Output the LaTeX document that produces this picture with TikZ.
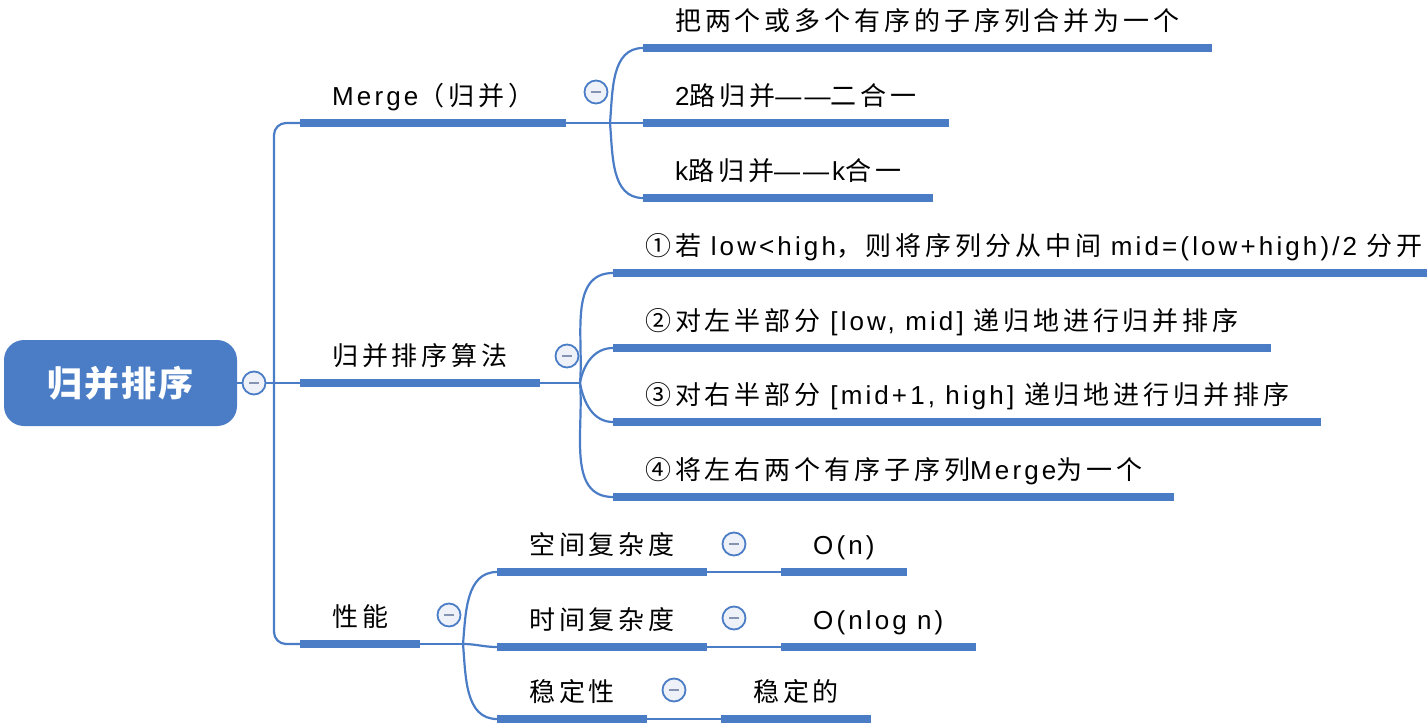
\documentclass[tikz,border=0pt]{standalone}
\usepackage{fontspec}
\setmainfont[LetterSpace=15]{Noto Sans CJK SC}
\newfontfamily\lat[LetterSpace=12]{Liberation Sans}
\definecolor{mapblue}{HTML}{4A7DC6}
\definecolor{foldfill}{HTML}{EEF1F8}
\definecolor{foldbar}{HTML}{8593B3}
\tikzset{
  link/.style={draw=mapblue, line width=2.2pt},
  bar/.style={draw=mapblue, line width=8pt},
  topic/.style={anchor=south west, inner xsep=32pt, inner ysep=0pt,
    text height=24pt, text depth=17pt, font=\fontsize{26pt}{30pt}\selectfont},
  rootbox/.style={rounded corners=20pt, fill=mapblue, text=white,
    minimum width=233pt, minimum height=86pt,
    font=\bfseries\fontsize{35pt}{40pt}\selectfont\addfontfeature{LetterSpace=6}},
  fold/.style={circle, draw=mapblue, line width=1.8pt, fill=foldfill,
    minimum size=23pt, inner sep=0pt,
    path picture={\draw[foldbar, line width=2pt]
      ([xshift=-5pt]path picture bounding box.center) -- ([xshift=5pt]path picture bounding box.center);}},
}
\begin{document}
\begin{tikzpicture}[x=1pt, y=1pt]
      \useasboundingbox (0,0) rectangle (1427,-725);
      \node[rootbox] (root) at (120.5,-383) {归并排序};
      \node[topic] (merge) at (300,-123) {{\lat Merge}（归并）};
      \node[topic] (algo) at (300,-383) {归并排序算法};
      \node[topic] (perf) at (300,-644) {性能};
      \node[topic] (m1) at (643,-48) {把两个或多个有序的子序列合并为一个};
      \node[topic] (m2) at (643,-123) {{\lat 2}路归并{\lat ——}二合一};
      \node[topic] (m3) at (643,-198) {{\lat k}路归并{\lat ——k}合一};
      \node[topic] (a1) at (613,-273) {①若 {\lat low<high}，则将序列分从中间 {\lat mid=(low+high)/2} 分开};
      \node[topic] (a2) at (613,-348) {②对左半部分 {\lat [low, mid]} 递归地进行归并排序};
      \node[topic] (a3) at (613,-422) {③对右半部分 {\lat [mid+1, high]} 递归地进行归并排序};
      \node[topic] (a4) at (613,-497) {④将左右两个有序子序列{\lat Merge}为一个};
      \node[topic] (p1) at (497,-572) {空间复杂度};
      \node[topic] (p2) at (497,-647) {时间复杂度};
      \node[topic] (p3) at (497,-719) {稳定性};
      \node[topic] (v1) at (781,-572) {\lat O(n)};
      \node[topic] (v2) at (781,-647) {\lat O(nlog n)};
      \node[topic] (v3) at (721,-719) {稳定的};
      \coordinate (rootfork) at (274,-383);
      \coordinate (mergefork) at (610,-123);
      \coordinate (algofork) at (580,-383);
      \coordinate (perffork) at (463,-644);
      \begin{scope}[link]
        \draw (root.east) -- (rootfork);
        \draw[rounded corners=12pt] (rootfork) |- (merge.south west);
        \draw (rootfork) -- (algo.south west);
        \draw[rounded corners=12pt] (rootfork) |- (perf.south west);
        \draw (merge.south east) -- (mergefork);
        \draw (mergefork) to[out=85, in=180] (m1.south west);
        \draw (mergefork) -- (m2.south west);
        \draw (mergefork) to[out=-85, in=180] (m3.south west);
        \draw (algo.south east) -- (algofork);
        \draw (algofork) to[out=85, in=180] (a1.south west);
        \draw (algofork) to[out=80, in=180] (a2.south west);
        \draw (algofork) to[out=-80, in=180] (a3.south west);
        \draw (algofork) to[out=-85, in=180] (a4.south west);
        \draw (perf.south east) -- (perffork);
        \draw (perffork) to[out=85, in=180] (p1.south west);
        \draw (perffork) to[out=0, in=180] (p2.south west);
        \draw (perffork) to[out=-85, in=180] (p3.south west);
        \draw (p1.south east) -- (v1.south west);
        \draw (p2.south east) -- (v2.south west);
        \draw (p3.south east) -- (v3.south west);
      \end{scope}
      \begin{scope}[bar]
        \draw (merge.south west) -- (merge.south east);
        \draw (algo.south west) -- (algo.south east);
        \draw (perf.south west) -- (perf.south east);
        \draw (m1.south west) -- (m1.south east);
        \draw (m2.south west) -- (m2.south east);
        \draw (m3.south west) -- (m3.south east);
        \draw (a1.south west) -- (a1.south east);
        \draw (a2.south west) -- (a2.south east);
        \draw (a3.south west) -- (a3.south east);
        \draw (a4.south west) -- (a4.south east);
        \draw (p1.south west) -- (p1.south east);
        \draw (p2.south west) -- (p2.south east);
        \draw (p3.south west) -- (p3.south east);
        \draw (v1.south west) -- (v1.south east);
        \draw (v2.south west) -- (v2.south east);
        \draw (v3.south west) -- (v3.south east);
      \end{scope}
      \node[fold] (rootfold) at (254,-383) {};
      \node[fold] (mergefold) at (596,-92) {};
      \node[fold] (algofold) at (567,-356) {};
      \node[fold] (perffold) at (449,-615) {};
      \node[fold] (p1fold) at (734,-544) {};
      \node[fold] (p2fold) at (734,-618) {};
      \node[fold] (p3fold) at (674,-690) {};
    \end{tikzpicture}
\end{document}
